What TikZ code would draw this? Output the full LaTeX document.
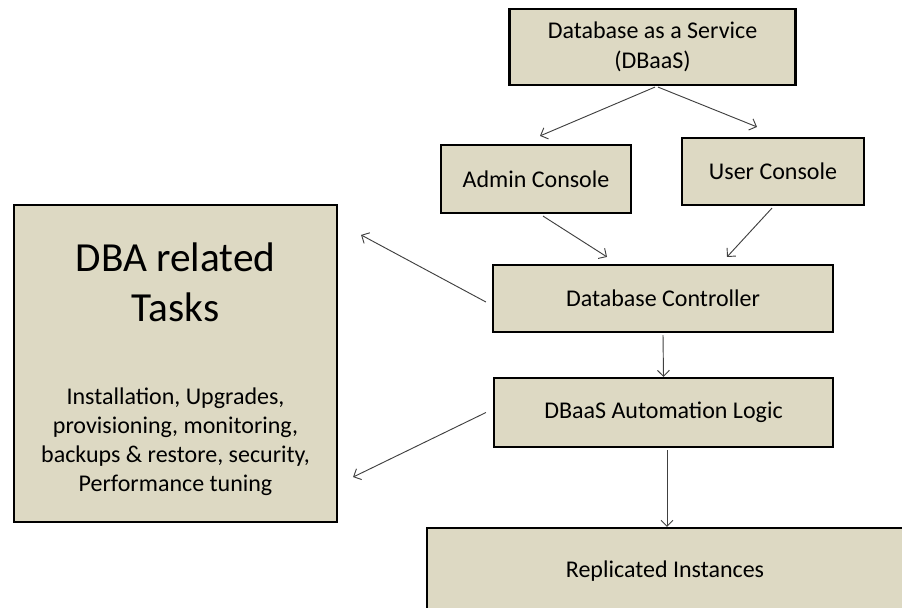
\documentclass[tikz,border=0pt]{standalone}
\usepackage{fontspec}
\setmainfont{Carlito}
\usetikzlibrary{
  arrows.meta,
  calc
}
\definecolor{boxfill}{HTML}{DDD9C3}
\definecolor{linkgray}{HTML}{404040}

\begin{document}
\begin{tikzpicture}[
  x=0.75pt, y=-0.75pt,
  box/.style={draw=black, line width=1.6pt, fill=boxfill, inner sep=0pt,
    align=center, font=\fontsize{18}{22.5}\selectfont},
  link/.style={draw=linkgray, line width=0.7pt,
    -{Straight Barb[length=4.5pt,width=9pt]}},
  title/.style={align=center, font=\fontsize{31}{37.5}\selectfont},
  tasks/.style={align=center, font=\fontsize{18}{21.75}\selectfont},
]
\useasboundingbox (0,0) rectangle (902,607);
\clip (0,0) rectangle (902,607);
\node[box, minimum width=214.5pt, minimum height=57pt] (dbaas) at (652.5,47) {Database as a Service\\(DBaaS)};
\node[box, minimum width=142.5pt, minimum height=51pt] (admin) at (536,179) {Admin Console};
\node[box, minimum width=136.5pt, minimum height=50.25pt] (user) at (773,171.5) {User Console};
\node[box, minimum width=255pt, minimum height=50.25pt] (ctrl) at (663,298.5) {Database Controller};
\node[box, minimum width=254.25pt, minimum height=51.75pt] (auto) at (663.5,412.5) {DBaaS Automation Logic};
\node[box, minimum width=357pt, minimum height=64.5pt] (repl) at (665,571) {Replicated Instances};
\node[box, minimum width=242.25pt, minimum height=237.75pt] (dba) at (175.5,363.5) {};
\node[title] (dbaTitle) at (175.5,282) {DBA related\\Tasks};
\node[tasks] (dbaList) at (175.5,441.5) {Installation, Upgrades,\\provisioning, monitoring,\\backups \& restore, security,\\Performance tuning};
\draw[link] ($(dbaas.south)+(2.5,1)$) -- ($(admin.north)+(4,-8)$);
\draw[link] ($(dbaas.south)+(5.5,1)$) -- ($(user.north)+(-16,-10)$);
\draw[link] ($(admin.south)+(7,2)$) -- ($(ctrl.north)+(-56,-7)$);
\draw[link] ($(user.south)+(-1,2)$) -- ($(ctrl.north)+(64,-7)$);
\draw[link] ($(ctrl.west)+(-6,3.5)$) -- ($(dba.north east)+(23,31)$);
\draw[link] ($(ctrl.south)+(0,2)$) -- (auto.north);
\draw[link] ($(auto.west)+(-7,0)$) -- ($(dba.south east)+(15,-46)$);
\draw[link] ($(auto.south)+(3.5,2)$) -- ($(repl.north)+(2,0)$);
\end{tikzpicture}
\end{document}
